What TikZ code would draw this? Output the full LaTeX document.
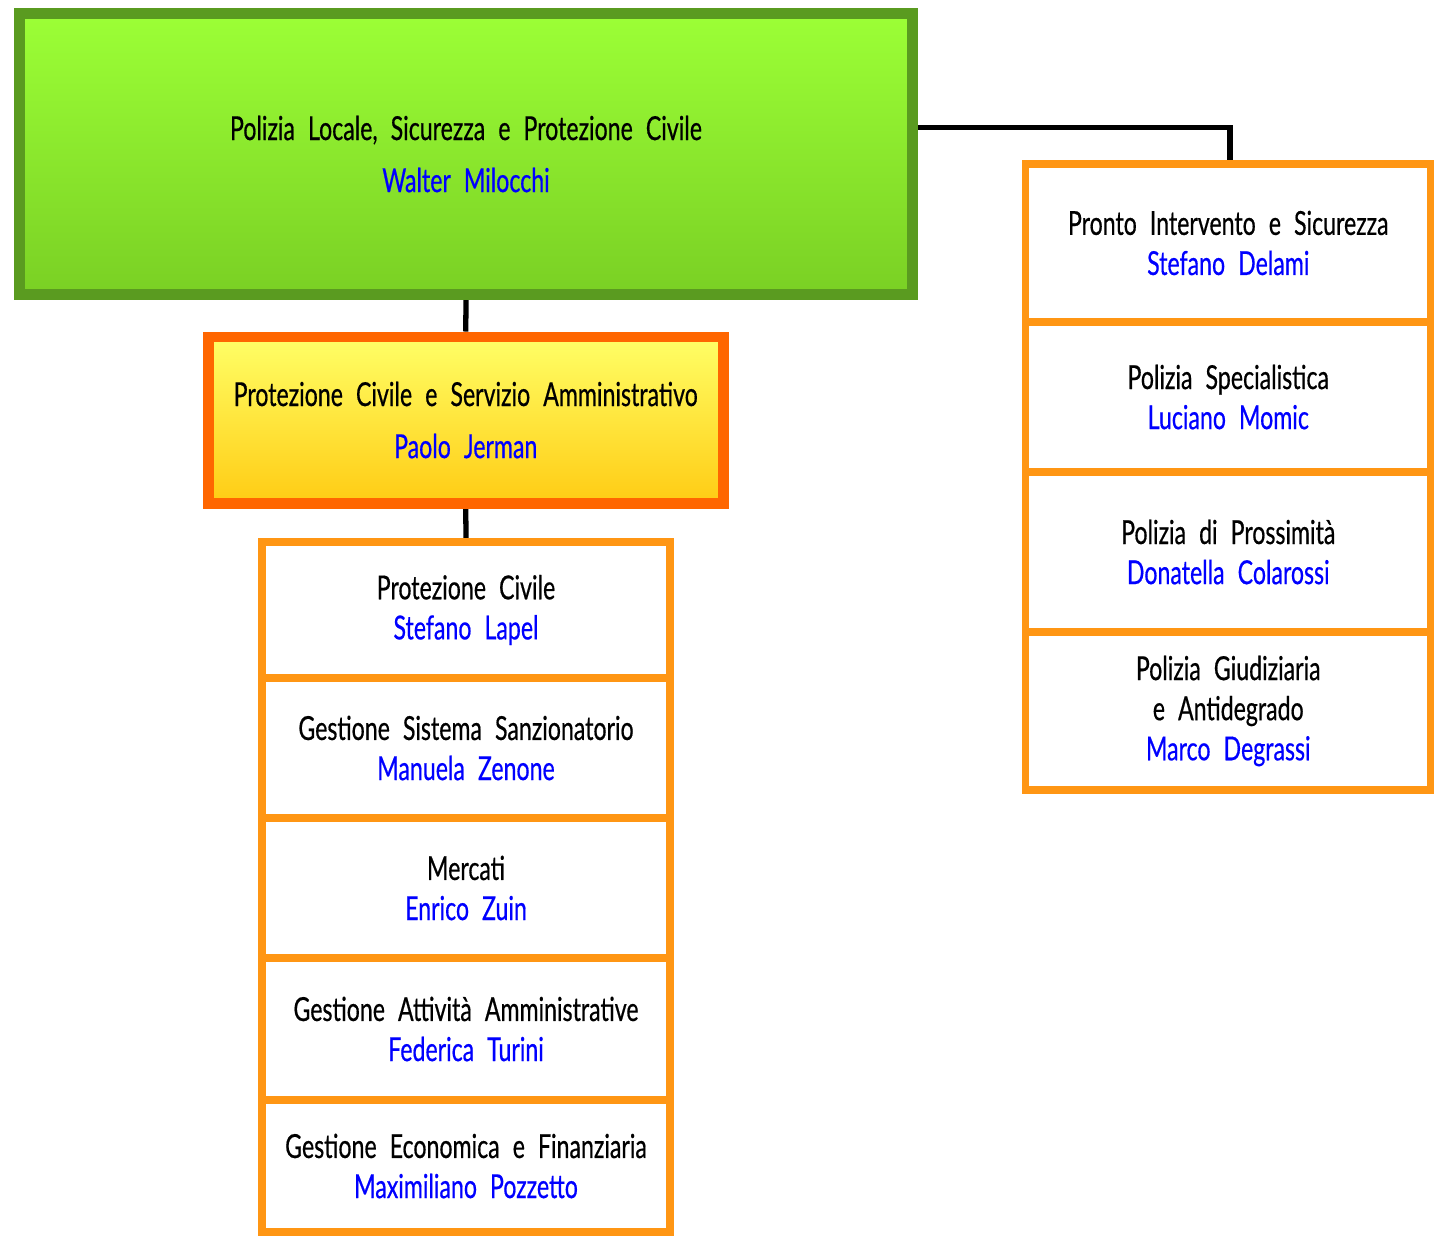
\documentclass[tikz,border=0pt]{standalone}
\usepackage{fontspec}
\setmainfont{Lato}[FakeStretch=0.7,WordSpace=2.2,FakeBold=0.5]
\usetikzlibrary{backgrounds}
\definecolor{headtop}{HTML}{9CFF36}
\definecolor{headbot}{HTML}{7AD024}
\definecolor{headline}{HTML}{5A9B20}
\definecolor{midtop}{HTML}{FFFF66}
\definecolor{midbot}{HTML}{FFCC14}
\definecolor{midline}{HTML}{FF6600}
\definecolor{unitline}{HTML}{FF9614}
\definecolor{who}{HTML}{0000FF}
\newcommand{\who}[1]{\textcolor{who}{#1}}
\tikzset{
  box/.style={align=center, inner sep=0pt, font=\fontsize{9.4}{11.4}\selectfont},
  head/.style={box, draw=headline, line width=3.1pt, top color=headtop, bottom color=headbot,
    minimum width=8.93cm, minimum height=2.8cm},
  mid/.style={box, draw=midline, line width=3.1pt, top color=midtop, bottom color=midbot,
    minimum width=5.145cm, minimum height=1.66cm},
  unit/.style={box, draw=unitline, line width=2.1pt, fill=white, minimum width=4.08cm},
  runit/.style={unit, minimum width=4.055cm},
  link/.style={draw=black, line width=1.5pt},
}
\begin{document}
\begin{tikzpicture}[x=0.01cm,y=-0.01cm]
  \useasboundingbox (0,0) rectangle (1434,1236);
  % top level
  \node[head] (plsp) at (466,154) {Polizia Locale, Sicurezza e Protezione Civile\\[3.4pt]\who{Walter Milocchi}};
  \node[mid] (pcsa) at (465.75,420) {Protezione Civile e Servizio Amministrativo\\[3.4pt]\who{Paolo Jerman}};
  % left column
  \node[unit, minimum height=1.36cm] (prot) at (466,610) {Protezione Civile\\\who{Stefano Lapel}};
  \node[unit, minimum height=1.40cm] (sanz) at (466,748) {Gestione Sistema Sanzionatorio\\\who{Manuela Zenone}};
  \node[unit, minimum height=1.40cm] (merc) at (466,888) {Mercati\\\who{Enrico Zuin}};
  \node[unit, minimum height=1.42cm] (atti) at (466,1029) {Gestione Attività Amministrative\\\who{Federica Turini}};
  \node[unit, minimum height=1.32cm] (econ) at (466,1166) {Gestione Economica e Finanziaria\\\who{Maximiliano Pozzetto}};
  % right column
  \node[runit, minimum height=1.58cm] (pron) at (1228.25,243) {Pronto Intervento e Sicurezza\\\who{Stefano Delami}};
  \node[runit, minimum height=1.50cm] (spec) at (1228.25,397) {Polizia Specialistica\\\who{Luciano Momic}};
  \node[runit, minimum height=1.60cm] (pros) at (1228.25,552) {Polizia di Prossimità\\\who{Donatella Colarossi}};
  \node[runit, minimum height=1.58cm] (giud) at (1228.25,711) {Polizia Giudiziaria\\e Antidegrado\\\who{Marco Degrassi}};
  % connectors
  \coordinate (elbow) at (1230,127.5);
  \begin{scope}[on background layer]
    \draw[link] (plsp.south) -- (pcsa.north);
    \draw[link] (pcsa.south) -- (prot.north);
    \draw[link] (plsp.east |- elbow) -- (elbow) -- (elbow |- pron.north);
  \end{scope}
\end{tikzpicture}
\end{document}
